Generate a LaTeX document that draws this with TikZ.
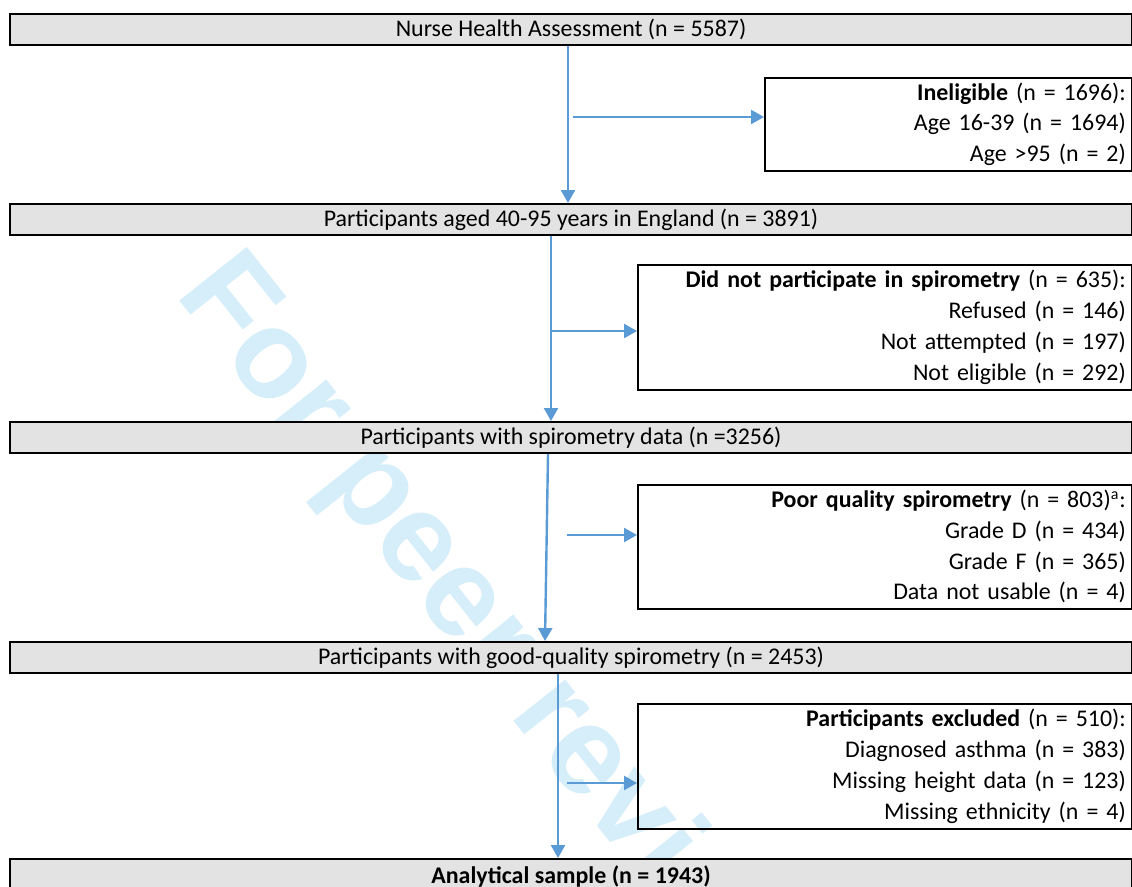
\documentclass[tikz,border=0pt]{standalone}
\usepackage{fontspec}
\setmainfont{Carlito}
\newfontfamily\wmfont{Liberation Sans}
\usetikzlibrary{arrows.meta, positioning}
\definecolor{flowblue}{HTML}{5B9BD5}
\definecolor{boxgray}{HTML}{E3E3E3}
\definecolor{wmblue}{HTML}{D5EEFA}

\begin{document}
\begin{tikzpicture}[x=0.5bp,y=-0.5bp]
\tikzset{
    stage/.style={draw=black, line width=1bp, fill=boxgray, anchor=north west,
        minimum width=561bp, minimum height=15.5bp, inner sep=0pt,
        font=\fontsize{12}{15}\selectfont},
    sidebox/.style={draw=black, line width=0.8bp, anchor=north west, align=right,
        inner xsep=3bp, inner ysep=0pt, font=\fontsize{12}{15.4}\selectfont},
    flow/.style={draw=flowblue, line width=1.2bp, -{Triangle[length=6.5bp,width=7bp]}},
}
\useasboundingbox (0,0) rectangle (1132,886);

% watermark
\node[font=\wmfont\bfseries\fontsize{63}{63}\selectfont, text=wmblue, rotate=-51.5,
    anchor=base west, inner sep=0pt] (wm) at (174,294) {For peer review};

% main stages
\node[stage] (nha) at (9,13) {Nurse Health Assessment (n = 5587)};
\node[stage] (aged) at (9,203) {Participants aged 40-95 years in England (n = 3891)};
\node[stage] (spiro) at (9,421) {Participants with spirometry data (n =3256)};
\node[stage] (good) at (9,641) {Participants with good-quality spirometry (n = 2453)};
\node[stage, minimum height=17.5bp] (ana) at (9,858) {\bfseries Analytical sample (n = 1943)};

% exclusions
\node[sidebox, text width=177.5bp, minimum height=46.5bp] (inel) at (764,77)
    {\textbf{Ineligible} (n = 1696):\\ Age 16-39 (n = 1694)\\ Age >95 (n = 2)};
\node[sidebox, text width=241bp, minimum height=62.5bp] (dnp) at (637,264)
    {\textbf{Did not participate in spirometry} (n = 635):\\ Refused (n = 146)\\
     Not attempted (n = 197)\\ Not eligible (n = 292)};
\node[sidebox, text width=241bp, minimum height=62bp] (poor) at (637,484)
    {\textbf{Poor quality spirometry} (n = 803)\textsuperscript{a}:\\ Grade D (n = 434)\\
     Grade F (n = 365)\\ Data not usable (n = 4)};
\node[sidebox, text width=241bp, minimum height=62.5bp] (excl) at (637,703)
    {\textbf{Participants excluded} (n = 510):\\ Diagnosed asthma (n = 383)\\
     Missing height data (n = 123)\\ Missing ethnicity (n = 4)};

% trunk and branches
\coordinate (t1) at (568,0);
\coordinate (t2) at (551,0);
\coordinate (t3a) at (548,0);
\coordinate (t3b) at (545,0);
\coordinate (t4) at (558,0);
\coordinate (k1) at (573,117);
\coordinate (k2) at (552,331);
\coordinate (k3) at (567,535);
\coordinate (k4) at (567,783);

\draw[flow] (nha.south -| t1) -- (aged.north -| t1);
\draw[flow] (k1) -- (inel.west |- k1);
\draw[flow] (aged.south -| t2) -- (spiro.north -| t2);
\draw[flow] (k2) -- (dnp.west |- k2);
\draw[flow] (spiro.south -| t3a) -- (good.north -| t3b);
\draw[flow] (k3) -- (poor.west |- k3);
\draw[flow] (good.south -| t4) -- (ana.north -| t4);
\draw[flow] (k4) -- (excl.west |- k4);
\end{tikzpicture}
\end{document}
